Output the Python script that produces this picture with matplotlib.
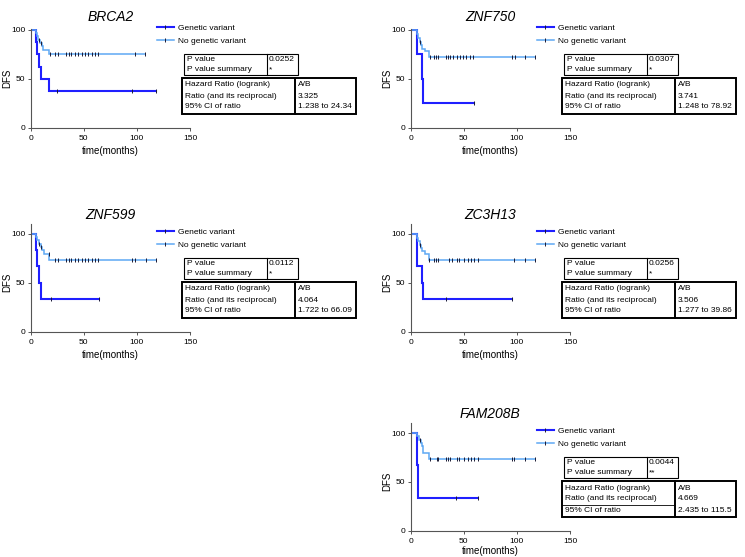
import matplotlib.pyplot as plt
import numpy as np
from matplotlib.patches import Rectangle
from matplotlib.lines import Line2D

plt.rcParams['font.family'] = ['Liberation Sans', 'DejaVu Sans']

W, H = 745, 557

genes = ['BRCA2', 'ZNF750', 'ZNF599', 'ZC3H13', 'FAM208B']
p_values = ['0.0252', '0.0307', '0.0112', '0.0256', '0.0044']
p_summary = ['*', '*', '*', '*', '**']
hr_ratio = ['3.325', '3.741', '4.064', '3.506', '4.669']
hr_ci = ['1.238 to 24.34', '1.248 to 78.92', '1.722 to 66.09',
         '1.277 to 39.86', '2.435 to 115.5']
p_labels = ['P value', 'P value summary']
hr_labels = ['Hazard Ratio (logrank)', 'Ratio (and its reciprocal)', '95% CI of ratio']
series_names = ['Genetic variant', 'No genetic variant']

# genetic variant group: event times, survival (%) after each event, censored times
gv_times = [[5, 6, 8, 10, 17], [6, 10.5, 11.5], [5, 5.8, 8, 10], [6, 10.5, 12], [5.5, 7]]
gv_surv = [[87.5, 75, 62.5, 50, 37.5], [75, 50, 25], [83.3, 66.7, 50, 33.3],
           [66.7, 50, 33.3], [66.7, 33.3]]
gv_censor = [[25, 95, 118], [60], [19, 64], [33.3, 95], [42.8, 63.8]]

# no genetic variant group
ng_times = [[5, 6, 7, 9, 11, 12, 17],
            [6, 7, 8.5, 10, 11, 13, 17],
            [5, 6, 7.5, 9.5, 11, 12.5, 17],
            [6, 7, 8.5, 10, 11, 13, 17],
            [6, 8, 9.5, 11, 12, 17]]
ng_surv = [[97, 93.5, 90, 87, 83.5, 79, 75],
           [96, 92, 88, 85, 81, 78, 72.5],
           [97, 93.5, 90, 87, 83.5, 80, 73.3],
           [96, 92.5, 89, 86, 83, 80, 73.3],
           [96.7, 93.3, 90, 86.7, 80, 73.3]]
ng_censor = [[8, 10, 17.8, 22.5, 25.4, 33.7, 35.9, 38, 41.3, 44.4, 47.9, 50.8, 54, 58,
              60.6, 63.8, 97.8, 108],
             [9, 18.2, 22, 23.9, 25.8, 33.3, 35.5, 37.1, 40.2, 43.4, 46.5, 49.7, 52.2,
              56, 59.1, 95.3, 98.4, 107.9, 117.3],
             [8, 10, 16.8, 23.2, 25.4, 33.7, 35.9, 38.1, 41.3, 44.4, 47.9, 50.8, 54, 58,
              60.6, 63.8, 95.6, 97.8, 108.3, 118.4],
             [9, 17.3, 22, 23.9, 25.8, 36.5, 38.7, 43.4, 45.6, 50.6, 53.8, 56.6, 59.7,
              63.8, 97.5, 107.9, 117.3],
             [8.8, 18.2, 24.5, 26.1, 33.3, 35.5, 37.1, 43.4, 45.6, 50.6, 53.8, 56.6, 59.7,
              63.8, 95.3, 97.5, 107.9, 117.3]]

dark_blue = '#1f1fff'
light_blue = '#5ea8f4'
tick_col = '#1a1a33'

# panel placement (pixel offsets of each panel relative to the BRCA2 panel)
col_off = [0, 380, 0, 380, 380]
row_off = [0, 0, 204, 204, 403]
ytops = [101, 101, 110, 110, 110]


def fx(x):
    return x / W


def fy(y):
    return 1 - y / H


def km(ax, times, surv, censor, color, lw):
    end = max(max(censor), times[-1])
    x = [0] + list(times) + [end]
    y = [100] + list(surv) + [surv[-1]]
    ax.step(x, y, where='post', color=color, lw=lw, solid_joinstyle='miter')
    levels = np.array([100] + list(surv))
    idx = np.searchsorted(np.array(times), np.array(censor), side='right')
    ax.plot(censor, levels[idx], ls='none', marker='|', ms=3.5, mew=0.7, color=tick_col)


fig = plt.figure(figsize=(W / 100, H / 100), dpi=100)

for i, g in enumerate(genes):
    dx, dy = col_off[i], row_off[i]
    ytop = ytops[i]
    px_per_unit = 97.5 / 100
    y0 = 127.5 + dy
    ax = fig.add_axes([fx(30.7 + dx), fy(y0), 159.3 / W, ytop * px_per_unit / H])
    km(ax, gv_times[i], gv_surv[i], gv_censor[i], dark_blue, 1.5)
    km(ax, ng_times[i], ng_surv[i], ng_censor[i], light_blue, 1.1)
    ax.set_xlim(0, 150)
    ax.set_ylim(0, ytop)
    ax.set_xticks([0, 50, 100, 150])
    ax.set_yticks([0, 50, 100])
    for s in ['top', 'right']:
        ax.spines[s].set_visible(False)
    for s in ['left', 'bottom']:
        ax.spines[s].set_color('#555555')
        ax.spines[s].set_linewidth(0.8)
    ax.tick_params(labelsize=6, length=2.5, width=0.7, color='#555555', pad=1.5)
    ax.tick_params(axis='x', pad=3)
    ax.set_xlabel('time(months)', fontsize=7, labelpad=2.5 if dy < 400 else 0.3)
    ax.set_ylabel('DFS', fontsize=7)
    ax.yaxis.set_label_coords(-(30.7 - 12.5) / 159.3, 50 / ytop)
    ax.set_title(g, fontsize=10, style='italic', pad=6 if i < 2 else 4)

    # legend
    handles = [Line2D([], [], color=dark_blue, lw=1.5, marker='|', ms=3.5, mew=0.7,
                      mec=tick_col),
               Line2D([], [], color=light_blue, lw=1.1, marker='|', ms=3.5, mew=0.7,
                      mec=tick_col)]
    fig.legend(handles, series_names, loc='upper left',
               bbox_to_anchor=(fx(157 + dx), fy(24.5 + dy)), frameon=False,
               fontsize=6, handlelength=2.0, handletextpad=0.5, labelspacing=0.6,
               borderpad=0, borderaxespad=0, markerfirst=True)

    # P value table
    l, r, t, b, mid = 184 + dx, 298 + dx, 54 + dy, 75 + dy, 267 + dx
    fig.add_artist(Rectangle((fx(l), fy(b)), (r - l) / W, (b - t) / H, fill=False,
                             lw=0.8, ec='black', transform=fig.transFigure))
    fig.add_artist(Line2D([fx(mid), fx(mid)], [fy(t), fy(b)], lw=0.8, color='black',
                          transform=fig.transFigure))
    for k, (lab, val) in enumerate(zip(p_labels, [p_values[i], p_summary[i]])):
        yy = fy(t + 5.5 + k * 10.3)
        fig.text(fx(l + 3), yy, lab, fontsize=6, va='center', ha='left')
        fig.text(fx(mid + 2), yy, val, fontsize=6, va='center', ha='left')

    # Hazard ratio table
    l, r, t, b, mid = 182 + dx, 356 + dx, 78 + dy, 114 + dy, 295 + dx
    fig.add_artist(Rectangle((fx(l), fy(b)), (r - l) / W, (b - t) / H, fill=False,
                             lw=1.4, ec='black', transform=fig.transFigure))
    fig.add_artist(Line2D([fx(mid), fx(mid)], [fy(t), fy(b)], lw=1.4, color='black',
                          transform=fig.transFigure))
    if g == 'FAM208B':
        fig.add_artist(Line2D([fx(l), fx(mid)], [fy(t + 24), fy(t + 24)], lw=0.6,
                              color='black', transform=fig.transFigure))
    for k, (lab, val) in enumerate(zip(hr_labels, ['A/B', hr_ratio[i], hr_ci[i]])):
        yy = fy(t + 7 + k * 11)
        fig.text(fx(l + 3), yy, lab, fontsize=6, va='center', ha='left')
        fig.text(fx(mid + 3), yy, val, fontsize=6, va='center', ha='left')

fig.savefig('out.png', dpi=100)
